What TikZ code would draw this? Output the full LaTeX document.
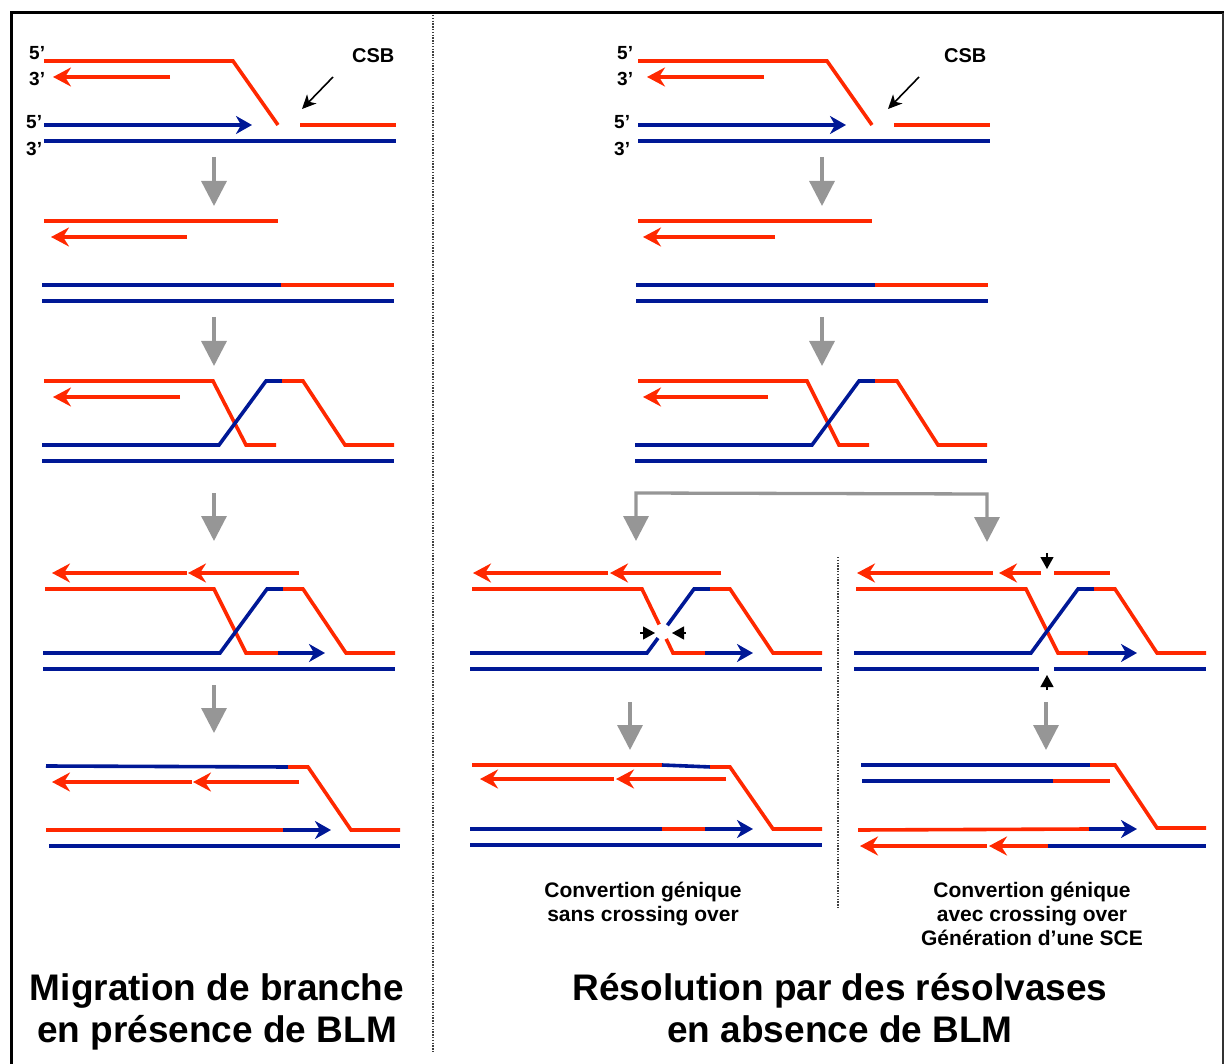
\documentclass[tikz,border=0pt]{standalone}
\usepackage{fontspec}
\setmainfont{Liberation Sans}
\usetikzlibrary{arrows.meta}
\definecolor{dnared}{RGB}{255,40,0}
\definecolor{dnablue}{RGB}{0,24,150}
\definecolor{arrgray}{RGB}{150,150,150}
\begin{document}
\begin{tikzpicture}[x=1pt,y=-1pt,
  rs/.style={draw=dnared,line width=3.6pt,line join=miter},
  bs/.style={draw=dnablue,line width=3.6pt,line join=miter},
  rarr/.style={rs,-{Stealth[length=18pt,width=19pt,inset=6pt]}},
  barr/.style={bs,-{Stealth[length=16pt,width=18pt,inset=5pt]}},
  garr/.style={draw=arrgray,line width=3.3pt,-{Triangle[length=25pt,width=25pt]}},
  gbracket/.style={draw=arrgray,line width=3.3pt,{Triangle[length=25pt,width=25pt]}-{Triangle[length=25pt,width=25pt]}},
  kcut/.style={draw=black,line width=1.2pt,-{Triangle[length=12pt,width=13pt]}},
  karr/.style={draw=black,line width=1.6pt,-{Stealth[length=14pt,width=13pt,inset=4pt]}},
  endlbl/.style={font=\fontsize{19}{19}\selectfont\bfseries,inner sep=0pt,anchor=base west},
  csblbl/.style={font=\fontsize{20}{20}\selectfont\bfseries,inner sep=0pt,anchor=base west},
  title/.style={font=\fontsize{37}{41}\selectfont\bfseries,inner sep=0pt,anchor=base},
  caption/.style={font=\fontsize{21}{24}\selectfont\bfseries,inner sep=0pt,anchor=base},
  sep/.style={draw=black!75,line width=1.3pt,dash pattern=on 1.4pt off 1.4pt},
]
\useasboundingbox (0,0) rectangle (1224,1064);
% frame
\draw[line width=3pt] (11,1070) -- (11,13) -- (1224,13);
\draw[line width=1.5pt,black!80] (1223,13) -- (1223,1070);
% separators
\draw[sep] (433,15) -- (433,1052);
\draw[sep] (838,557) -- (838,908);

% ================= LEFT PANEL =================
% step 1
\draw[rs] (44,61) -- (233,61) -- (278,125);
\draw[rarr] (170,77) -- (53,77);
\draw[barr] (44,125) -- (252,125);
\draw[bs] (44,141) -- (396,141);
\draw[rs] (300,125) -- (396,125);
\node[endlbl] (l5a) at (29,60) {5’};
\node[endlbl] (l3a) at (29,86) {3’};
\node[endlbl] (l5b) at (26,129) {5’};
\node[endlbl] (l3b) at (26,156) {3’};
\node[csblbl] (lcsb) at (352,63) {CSB};
\coordinate (lcsbs) at (333,77);
\coordinate (lcsbe) at (302,109);
\draw[karr] (lcsbs) -- (lcsbe);
\draw[garr] (214,157) -- (214,206);
% step 2
\draw[rs] (44,221) -- (278,221);
\draw[rarr] (187,237) -- (51,237);
\draw[bs] (42,285) -- (281,285);
\draw[rs] (281,285) -- (394,285);
\draw[bs] (42,301) -- (394,301);
\draw[garr] (214,317) -- (214,366);
% step 3
\draw[rs] (44,381) -- (213,381) -- (246,445) -- (276,445);
\draw[rarr] (180,397) -- (53,397);
\draw[bs] (42,445) -- (219,445) -- (266,381) -- (283,381);
\draw[rs] (282,381) -- (303,381) -- (345,445) -- (394,445);
\draw[bs] (42,461) -- (394,461);
\draw[garr] (214,493) -- (214,541);
% step 4
\draw[rarr] (187,573) -- (52,573);
\draw[rarr] (299,573) -- (188,573);
\draw[rs] (45,589) -- (214,589) -- (246,653) -- (279,653);
\draw[barr] (278,653) -- (325,653);
\draw[bs] (43,653) -- (220,653) -- (267,589) -- (284,589);
\draw[rs] (283,589) -- (303,589) -- (346,653) -- (395,653);
\draw[bs] (43,669) -- (395,669);
\draw[garr] (214,685) -- (214,733);
% step 5
\draw[bs] (46,766) -- (289,767);
\draw[rs] (288,767) -- (308,767) -- (351,830) -- (400,830);
\draw[rarr] (192,782) -- (52,782);
\draw[rarr] (299,782) -- (193,782);
\draw[rs] (46,830) -- (284,830);
\draw[barr] (283,830) -- (331,830);
\draw[bs] (49,846) -- (400,846);
\node[title] (lt1) at (217,1000) {Migration de branche};
\node[title] (lt2) at (217,1042) {en présence de BLM};

% ================= RIGHT PANEL (top) =================
\draw[rs] (638,61) -- (827,61) -- (872,125);
\draw[rarr] (764,77) -- (647,77);
\draw[barr] (638,125) -- (846,125);
\draw[bs] (638,141) -- (990,141);
\draw[rs] (894,125) -- (990,125);
\node[endlbl] (r5a) at (617,60) {5’};
\node[endlbl] (r3a) at (617,86) {3’};
\node[endlbl] (r5b) at (614,129) {5’};
\node[endlbl] (r3b) at (614,156) {3’};
\node[csblbl] (rcsb) at (944,63) {CSB};
\coordinate (rcsbs) at (919,77);
\coordinate (rcsbe) at (888,109);
\draw[karr] (rcsbs) -- (rcsbe);
\draw[garr] (822,157) -- (822,206);
% step 2
\draw[rs] (638,221) -- (872,221);
\draw[rarr] (775,237) -- (643,237);
\draw[bs] (636,285) -- (876,285);
\draw[rs] (875,285) -- (988,285);
\draw[bs] (636,301) -- (988,301);
\draw[garr] (822,317) -- (822,366);
% step 3
\draw[rs] (638,381) -- (807,381) -- (839,445) -- (869,445);
\draw[rarr] (768,397) -- (643,397);
\draw[bs] (635,445) -- (812,445) -- (859,381) -- (876,381);
\draw[rs] (875,381) -- (897,381) -- (938,445) -- (987,445);
\draw[bs] (635,461) -- (987,461);
% bracket
\draw[gbracket] (636,541) -- (636,493) -- (987,494) -- (987,542);

% ================= MIDDLE BOTTOM =================
\draw[rarr] (608,573) -- (473,573);
\draw[rarr] (721,573) -- (610,573);
\draw[rs] (472,589) -- (642,589) -- (659.2,624.5);
\draw[rs] (666.2,638.9) -- (673,653) -- (706,653);
\draw[barr] (705,653) -- (753,653);
\draw[bs] (470,653) -- (647,653) -- (658,638.1);
\draw[bs] (667.4,625.3) -- (694,589) -- (711,589);
\draw[rs] (710,589) -- (730,589) -- (773,653) -- (822,653);
\draw[bs] (470,669) -- (822,669);
\draw[kcut] (640,633) -- (655,633);
\draw[kcut] (686,633) -- (672,633);
\draw[garr] (630,702) -- (630,750);
% step 5
\draw[rs] (472,765) -- (663,765);
\draw[bs] (662,765) -- (711,767);
\draw[rs] (710,767) -- (730,767) -- (773,829) -- (822,829);
\draw[rarr] (614,779) -- (480,779);
\draw[rarr] (726,779) -- (616,779);
\draw[bs] (470,829) -- (663,829);
\draw[rs] (662,829) -- (706,829);
\draw[barr] (705,829) -- (753,829);
\draw[bs] (470,845) -- (822,845);
\node[caption] (mc1) at (643,897) {Convertion génique};
\node[caption] (mc2) at (643,921) {sans crossing over};

% ================= RIGHT BOTTOM =================
\draw[kcut] (1047,553) -- (1047,569);
\draw[rarr] (993,573) -- (857,573);
\draw[rarr] (1041,573) -- (999,573);
\draw[rs] (1054,573) -- (1110,573);
\draw[rs] (856,589) -- (1026,589) -- (1058,653) -- (1089,653);
\draw[barr] (1088,653) -- (1137,653);
\draw[bs] (854,653) -- (1031,653) -- (1078,589) -- (1095,589);
\draw[rs] (1094,589) -- (1115,589) -- (1157,653) -- (1206,653);
\draw[bs] (854,669) -- (1039,669);
\draw[bs] (1054,669) -- (1206,669);
\draw[kcut] (1047,690) -- (1047,675);
\draw[garr] (1046,702) -- (1046,750);
% step 5
\draw[bs] (861,765) -- (1091,765);
\draw[rs] (1090,765) -- (1115,765) -- (1157,828) -- (1206,828);
\draw[bs] (862,781) -- (1054,781);
\draw[rs] (1053,781) -- (1110,781);
\draw[rs] (858,830) -- (1090,829);
\draw[barr] (1089,829) -- (1137,829);
\draw[rarr] (1049,846) -- (989,846);
\draw[rarr] (987,846) -- (860,846);
\draw[bs] (1048,846) -- (1206,846);
\node[caption] (rc1) at (1032,897) {Convertion génique};
\node[caption] (rc2) at (1032,921) {avec crossing over};
\node[caption] (rc3) at (1032,945) {Génération d’une SCE};
\node[title] (rt1) at (840,1000) {Résolution par des résolvases};
\node[title] (rt2) at (840,1042) {en absence de BLM};
\end{tikzpicture}
\end{document}
